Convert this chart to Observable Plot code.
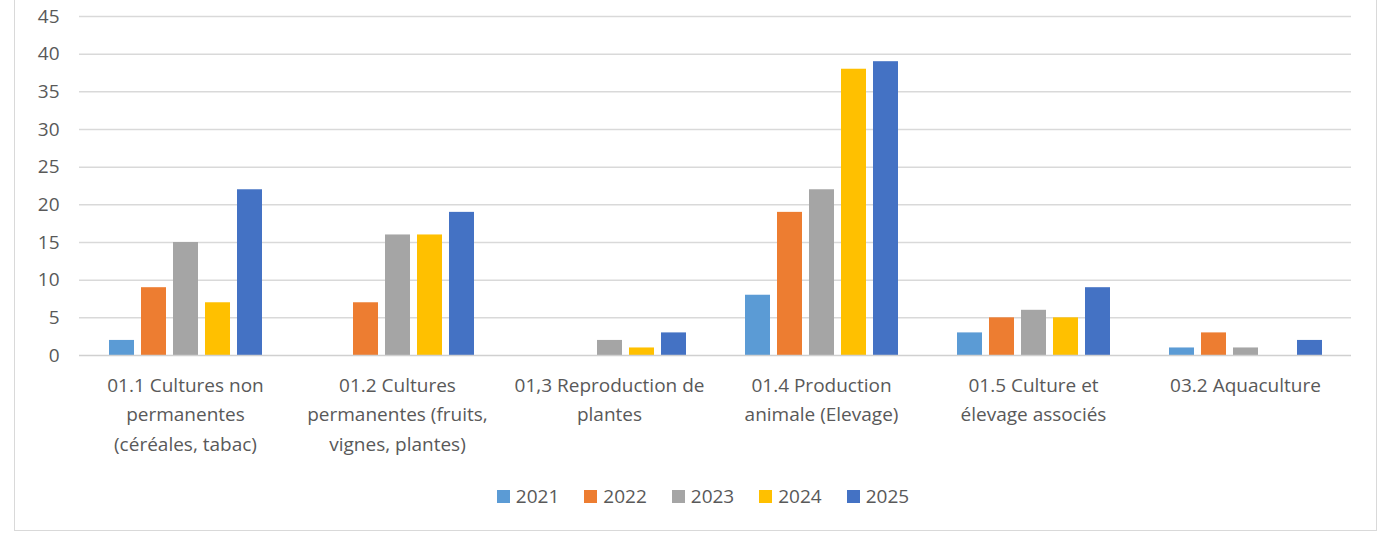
<!DOCTYPE html>
<html>
<head>
<meta charset="utf-8">
<script src="https://cdn.jsdelivr.net/npm/d3@7"></script>
<script src="https://cdn.jsdelivr.net/npm/@observablehq/plot@0.6"></script>
<style>
  html, body { margin: 0; padding: 0; background: #fff; }
  body { width: 1380px; height: 533px; position: relative; overflow: hidden; font-family: "Open Sans", sans-serif; }
  #frame { position: absolute; left: 14px; top: -2px; width: 1363px; height: 533px; border: 1px solid #d9d9d9; box-sizing: border-box; pointer-events: none; }
  #chart { position: absolute; left: 0; top: 0; }
  #legend { position: absolute; left: 14px; top: 483px; width: 1378px; display: flex; justify-content: center; gap: 25px; font-size: 19px; color: #595959; }
  #legend .item { display: flex; align-items: center; gap: 6px; }
  #legend .sw { width: 13px; height: 13px; display: inline-block; }
</style>
</head>
<body>
<div id="chart"></div>
<div id="legend"></div>
<div id="frame"></div>
<script>
const categories = [
  "01.1 Cultures non\npermanentes\n(céréales, tabac)",
  "01.2 Cultures\npermanentes (fruits,\nvignes, plantes)",
  "01,3 Reproduction de\nplantes",
  "01.4 Production\nanimale (Elevage)",
  "01.5 Culture et\nélevage associés",
  "03.2 Aquaculture"
];
const years = ["2021", "2022", "2023", "2024", "2025"];
const values2021 = [2, 0, 0, 8, 3, 1];
const values2022 = [9, 7, 0, 19, 5, 3];
const values2023 = [15, 16, 2, 22, 6, 1];
const values2024 = [7, 16, 1, 38, 5, 0];
const values2025 = [22, 19, 3, 39, 9, 2];
const yTicks = [0, 5, 10, 15, 20, 25, 30, 35, 40, 45];
const colors = ["#5B9BD5", "#ED7D31", "#A5A5A5", "#FFC000", "#4472C4"];

const series = [values2021, values2022, values2023, values2024, values2025];
const data = [];
categories.forEach((c, i) => {
  years.forEach((y, j) => data.push({category: c, year: y, value: series[j][i]}));
});

const chart = Plot.plot({
  width: 1380,
  height: 475,
  marginLeft: 78,
  marginRight: 29,
  marginTop: 16,
  marginBottom: 120,
  style: {fontFamily: "'Open Sans', sans-serif", fontSize: "19px", color: "#595959", background: "transparent"},
  fx: {domain: categories, padding: 0, label: null},
  x: {domain: years, paddingInner: 0.23, paddingOuter: 0.89, axis: null},
  y: {domain: [0, 45], ticks: yTicks, label: null},
  color: {domain: years, range: colors},
  marks: [
    Plot.ruleY(yTicks.filter(d => d > 0), {stroke: "#d9d9d9", strokeWidth: 1.5}),
    Plot.axisY({ticks: yTicks, tickSize: 0, tickPadding: 20, label: null, fontSize: 19}),
    Plot.axisFx({anchor: "bottom", tickSize: 0, tickPadding: 15, label: null, fontSize: 19, lineHeight: 1.56}),
    Plot.barY(data, {fx: "category", x: "year", y: "value", fill: "year"}),
    Plot.ruleY([0], {stroke: "#d0d0d0", strokeWidth: 1.5})
  ]
});
document.getElementById("chart").appendChild(chart);

const legend = document.getElementById("legend");
years.forEach((y, i) => {
  const item = document.createElement("span");
  item.className = "item";
  const sw = document.createElement("span");
  sw.className = "sw";
  sw.style.background = colors[i];
  item.appendChild(sw);
  item.appendChild(document.createTextNode(y));
  legend.appendChild(item);
});
</script>
</body>
</html>
